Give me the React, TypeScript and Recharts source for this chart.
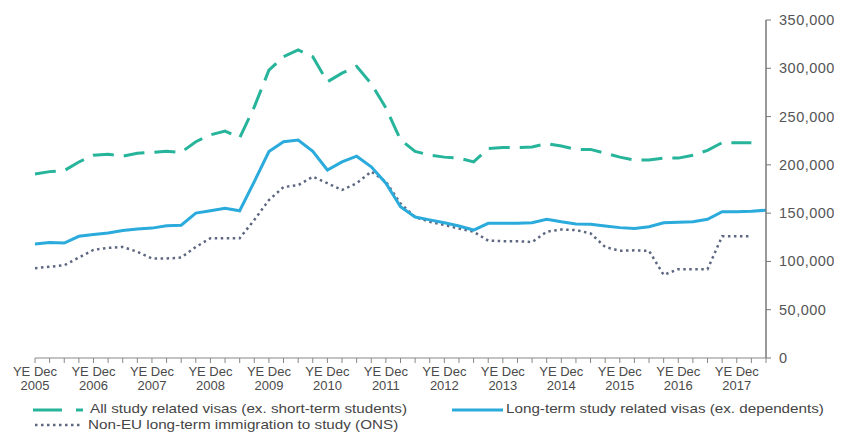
import React from "react";
import { LineChart, Line, XAxis, YAxis } from "recharts";

const periods: string[] = [
  "YE Dec 2005",
  "YE Mar 2006", "YE Jun 2006", "YE Sep 2006", "YE Dec 2006",
  "YE Mar 2007", "YE Jun 2007", "YE Sep 2007", "YE Dec 2007",
  "YE Mar 2008", "YE Jun 2008", "YE Sep 2008", "YE Dec 2008",
  "YE Mar 2009", "YE Jun 2009", "YE Sep 2009", "YE Dec 2009",
  "YE Mar 2010", "YE Jun 2010", "YE Sep 2010", "YE Dec 2010",
  "YE Mar 2011", "YE Jun 2011", "YE Sep 2011", "YE Dec 2011",
  "YE Mar 2012", "YE Jun 2012", "YE Sep 2012", "YE Dec 2012",
  "YE Mar 2013", "YE Jun 2013", "YE Sep 2013", "YE Dec 2013",
  "YE Mar 2014", "YE Jun 2014", "YE Sep 2014", "YE Dec 2014",
  "YE Mar 2015", "YE Jun 2015", "YE Sep 2015", "YE Dec 2015",
  "YE Mar 2016", "YE Jun 2016", "YE Sep 2016", "YE Dec 2016",
  "YE Mar 2017", "YE Jun 2017", "YE Sep 2017", "YE Dec 2017",
  "YE Mar 2018", "YE Jun 2018",
];

const allStudyVisas: (number | null)[] = [
  190500,
  193000, 194000, 203000, 210000,
  211000, 209000, 212000, 213000,
  214000, 213000, 224000, 231000,
  235000, 228000, 260000, 298000,
  312000, 319000, 312000, 286000,
  295000, 302000, 284000, 259000,
  226000, 214000, 210000, 208000,
  207000, 203000, 217000, 218000,
  218000, 218500, 222000, 219500,
  216000, 216000, 212000, 208000,
  205000, 205000, 207000, 207000,
  210000, 215000, 223000, 223000,
  223000, null,
];

const longTermVisas: (number | null)[] = [
  118000,
  119500, 119000, 126000, 128000,
  129500, 132000, 133500, 134500,
  137000, 137500, 150000, 152500,
  155000, 152500, 182600, 213700,
  224000, 225700, 214000, 194700,
  203000, 209000, 198000, 181000,
  156700, 146000, 143000, 140000,
  136700, 132500, 139500, 139500,
  139500, 140000, 143600, 141000,
  138800, 138500, 136700, 135000,
  134000, 136000, 140000, 140500,
  141000, 143600, 151500, 151500,
  152000, 153000,
];

const onsStudy: (number | null)[] = [
  93000,
  94500, 96000, 104000, 112000,
  114000, 115000, 110000, 103000,
  103000, 104000, 115000, 124000,
  124000, 124000, 143000, 163600,
  177000, 179000, 187700, 181000,
  174000, 181000, 193000, 182600,
  160000, 146000, 141000, 137700,
  134000, 130800, 121500, 121000,
  121000, 120000, 130800, 133000,
  132500, 129000, 115000, 111000,
  111500, 111000, 86000, 92000,
  92000, 92000, 126000, 126000,
  126000, null,
];

const yTicks: number[] = [0, 50000, 100000, 150000, 200000, 250000, 300000, 350000];

const seriesNames = {
  all: "All study related visas (ex. short-term students)",
  longTerm: "Long-term study related visas (ex. dependents)",
  ons: "Non-EU long-term immigration to study (ONS)",
};

const data = periods.map((p, i) => ({
  period: p,
  all: allStudyVisas[i],
  longTerm: longTermVisas[i],
  ons: onsStudy[i],
}));

const TEAL = "#26b49a";
const BLUE = "#2aabdc";
const DOT = "#5d6880";
const FONT = "'Liberation Sans', Arial, sans-serif";

const XTick = (props: any) => {
  const { x, y, payload } = props;
  const label: string = payload.value;
  if (!label.startsWith("YE Dec")) return null;
  const year = label.slice(7);
  return (
    <text x={x} y={y} textAnchor="middle" fontFamily={FONT} fontSize={13} fill="#4a4a4a">
      <tspan x={x} dy={11}>YE Dec</tspan>
      <tspan x={x} dy={14}>{year}</tspan>
    </text>
  );
};

const YTick = (props: any) => {
  const { x, y, payload } = props;
  return (
    <text x={x} y={y} dy={5} textAnchor="start" fontFamily={FONT} fontSize={14.5} letterSpacing={0.5} fill="#555">
      {Number(payload.value).toLocaleString("en-US")}
    </text>
  );
};

const legendText: React.CSSProperties = {
  position: "absolute",
  fontFamily: FONT,
  fontSize: 13,
  color: "#454545",
  whiteSpace: "nowrap",
  lineHeight: "14px",
  height: 14,
  transform: "scaleX(1.17)",
  transformOrigin: "0 50%",
};

export default function App() {
  return (
    <div style={{ position: "relative", width: 834, height: 424, background: "#fff" }}>
      <LineChart
        width={834}
        height={392}
        data={data}
        margin={{ top: 12, right: 0, left: 27, bottom: 0 }}
      >
        <XAxis
          dataKey="period"
          interval={0}
          tick={<XTick />}
          tickSize={5}
          tickLine={{ stroke: "#888" }}
          axisLine={{ stroke: "#888" }}
          height={42}
        />
        <YAxis
          orientation="right"
          width={76}
          domain={[0, 350000]}
          ticks={yTicks}
          tick={<YTick />}
          tickSize={5}
          tickMargin={8}
          tickLine={{ stroke: "#777" }}
          axisLine={{ stroke: "#777", strokeWidth: 1.5 }}
        />
        <Line
          type="linear"
          dataKey="ons"
          name={seriesNames.ons}
          stroke={DOT}
          strokeWidth={2.5}
          strokeDasharray="2.5 3.5"
          dot={false}
          isAnimationActive={false}
        />
        <Line
          type="linear"
          dataKey="longTerm"
          name={seriesNames.longTerm}
          stroke={BLUE}
          strokeWidth={3}
          dot={false}
          isAnimationActive={false}
        />
        <Line
          type="linear"
          dataKey="all"
          name={seriesNames.all}
          stroke={TEAL}
          strokeWidth={3}
          strokeDasharray="21 10"
          dot={false}
          isAnimationActive={false}
        />
      </LineChart>
      <svg style={{ position: "absolute", left: 0, top: 394 }} width={834} height={30}>
        <line x1={25} y1={8} x2={54} y2={8} stroke={TEAL} strokeWidth={3} />
        <line x1={68} y1={8} x2={75} y2={8} stroke={TEAL} strokeWidth={3} />
        <line x1={444} y1={8} x2={495} y2={8} stroke={BLUE} strokeWidth={3} />
        <line x1={27} y1={23} x2={75} y2={23} stroke={DOT} strokeWidth={2.5} strokeDasharray="2.5 3.5" />
      </svg>
      <div style={{ ...legendText, left: 82, top: 394 }}>{seriesNames.all}</div>
      <div style={{ ...legendText, left: 498, top: 394 }}>{seriesNames.longTerm}</div>
      <div style={{ ...legendText, left: 80, top: 410 }}>{seriesNames.ons}</div>
    </div>
  );
}
